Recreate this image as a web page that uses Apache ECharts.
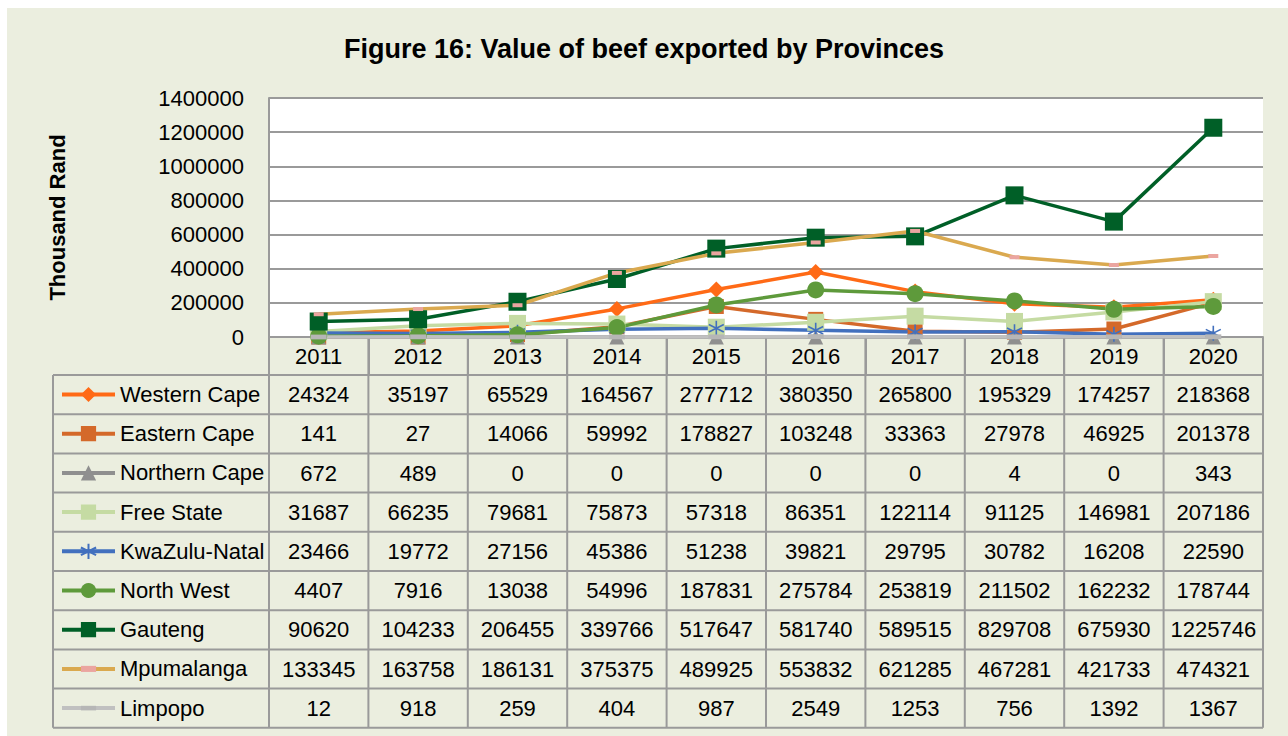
<!DOCTYPE html>
<html>
<head>
<meta charset="utf-8">
<title>Value of beef exported by Provinces</title>
<script src="https://cdn.jsdelivr.net/npm/echarts@6/dist/echarts.min.js"></script>
<style>
  html, body { margin: 0; padding: 0; background: #fff; }
  #main { width: 1288px; height: 736px; }
</style>
</head>
<body>
<div id="main"></div>
<script>
var years = ['2011', '2012', '2013', '2014', '2015', '2016', '2017', '2018', '2019', '2020'];
var westernCape = [24324, 35197, 65529, 164567, 277712, 380350, 265800, 195329, 174257, 218368];
var easternCape = [141, 27, 14066, 59992, 178827, 103248, 33363, 27978, 46925, 201378];
var northernCape = [672, 489, 0, 0, 0, 0, 0, 4, 0, 343];
var freeState = [31687, 66235, 79681, 75873, 57318, 86351, 122114, 91125, 146981, 207186];
var kwaZuluNatal = [23466, 19772, 27156, 45386, 51238, 39821, 29795, 30782, 16208, 22590];
var northWest = [4407, 7916, 13038, 54996, 187831, 275784, 253819, 211502, 162232, 178744];
var gauteng = [90620, 104233, 206455, 339766, 517647, 581740, 589515, 829708, 675930, 1225746];
var mpumalanga = [133345, 163758, 186131, 375375, 489925, 553832, 621285, 467281, 421733, 474321];
var limpopo = [12, 918, 259, 404, 987, 2549, 1253, 756, 1392, 1367];
var yTicks = [0, 200000, 400000, 600000, 800000, 1000000, 1200000, 1400000];

var FONT = '"Liberation Sans", Arial, sans-serif';
var FS = 22;
var GRID = '#9a9a9a';
var BG = '#ebeedf';

// custom marker shapes
var asterisk = 'path://M0,-10L0,10M-8.66,-5L8.66,5M-8.66,5L8.66,-5';
var dash = 'path://M0,0M10,10M0,3L10,3L10,7L0,7Z';
var bar = 'path://M0,0M10,10M0,3.5L10,3.5L10,6.5L0,6.5Z';

var seriesDefs = [
  { name: 'Western Cape', data: westernCape, color: '#ff6a16', symbol: 'diamond', size: 16 },
  { name: 'Eastern Cape', data: easternCape, color: '#d4692a', symbol: 'rect', size: 15 },
  { name: 'Northern Cape', data: northernCape, color: '#8f8f8f', symbol: 'triangle', size: 15 },
  { name: 'Free State', data: freeState, color: '#c5dba3', symbol: 'rect', size: 17 },
  { name: 'KwaZulu-Natal', data: kwaZuluNatal, color: '#4270be', symbol: asterisk, size: 15, stroke: true },
  { name: 'North West', data: northWest, color: '#5e9a3b', symbol: 'circle', size: 17 },
  { name: 'Gauteng', data: gauteng, color: '#005f27', symbol: 'rect', size: 18 },
  { name: 'Mpumalanga', data: mpumalanga, color: '#daa94f', symbol: dash, size: 10, markColor: '#eba5a0' },
  { name: 'Limpopo', data: limpopo, color: '#c0c0c0', symbol: bar, size: 16, markColor: '#b6b6b6' }
];

var series = seriesDefs.map(function (d) {
  var item = { color: d.markColor || d.color };
  if (d.stroke) {
    item.borderColor = d.color;
    item.borderWidth = 1.6;
  }
  return {
    name: d.name,
    type: 'line',
    data: d.data,
    symbol: d.symbol,
    symbolSize: d.size,
    showAllSymbol: true,
    clip: false,
    lineStyle: { color: d.color, width: 3.5 },
    itemStyle: item,
    emphasis: { disabled: true },
    animation: false
  };
});

var chart = echarts.init(document.getElementById('main'), null, { renderer: 'svg' });

var option = {
  backgroundColor: '#fff',
  animation: false,
  textStyle: { fontFamily: FONT },
  title: {
    text: 'Figure 16: Value of beef exported by Provinces',
    left: 'center',
    top: 30,
    textStyle: { fontFamily: FONT, fontSize: 27, fontWeight: 'bold', color: '#000' }
  },
  grid: {
    left: 269, top: 98, width: 994, height: 239,
    show: true, backgroundColor: '#fff', borderWidth: 0
  },
  legend: {
    orient: 'vertical',
    left: 60,
    top: 383.5,
    padding: 0,
    itemWidth: 53,
    itemHeight: 19,
    itemGap: 17.2,
    selectedMode: false,
    lineStyle: { width: 4 },
    textStyle: { fontFamily: FONT, fontSize: FS, lineHeight: 22, color: '#000' }
  },
  xAxis: {
    type: 'category',
    data: years,
    boundaryGap: true,
    axisLine: { lineStyle: { color: GRID, width: 2 } },
    axisTick: { show: true, length: 38, interval: 0, lineStyle: { color: GRID, width: 2 } },
    axisLabel: { fontFamily: FONT, fontSize: FS, color: '#000', margin: 8, interval: 0 }
  },
  yAxis: {
    type: 'value',
    min: yTicks[0],
    max: yTicks[yTicks.length - 1],
    interval: yTicks[1] - yTicks[0],
    name: 'Thousand Rand',
    nameLocation: 'middle',
    nameRotate: 90,
    nameGap: 201,
    nameTextStyle: { fontFamily: FONT, fontSize: 22, fontWeight: 'bold', color: '#000' },
    axisLine: { show: true, lineStyle: { color: GRID, width: 2 } },
    axisTick: { show: false },
    axisLabel: {
      fontFamily: FONT, fontSize: FS, color: '#000', margin: 25,
      formatter: function (v) { return String(v); }
    },
    splitLine: { lineStyle: { color: GRID, width: 2 } }
  },
  series: series
};

chart.setOption(option);

// data table under the plot, laid out from the category axis
function buildTable() {
  var x0 = chart.convertToPixel({ xAxisIndex: 0 }, years[0]);
  var x1 = chart.convertToPixel({ xAxisIndex: 0 }, years[1]);
  var band = x1 - x0;
  var plotLeft = x0 - band / 2;
  var plotRight = plotLeft + band * years.length;
  var plotBottom = chart.convertToPixel({ yAxisIndex: 0 }, 0);
  var headerH = 38;
  var rowH = 39.2;
  var tableLeft = 53;
  var tableTop = plotBottom + headerH;
  var tableBottom = tableTop + rowH * seriesDefs.length;
  var lineStyle = { stroke: GRID, lineWidth: 2 };
  var els = [];

  els.push({ type: 'rect', z: -100, silent: true,
    shape: { x: 7, y: 8, width: 1288 - 7, height: 736 - 8 }, style: { fill: BG } });

  // horizontal rules
  for (var r = 0; r <= seriesDefs.length; r++) {
    var y = tableTop + r * rowH;
    els.push({ type: 'line', silent: true, shape: { x1: tableLeft, y1: y, x2: plotRight, y2: y }, style: lineStyle });
  }
  // vertical rules
  els.push({ type: 'line', silent: true, shape: { x1: tableLeft, y1: tableTop, x2: tableLeft, y2: tableBottom }, style: lineStyle });
  for (var c = 0; c <= years.length; c++) {
    var x = plotLeft + c * band;
    els.push({ type: 'line', silent: true, shape: { x1: x, y1: plotBottom, x2: x, y2: tableBottom }, style: lineStyle });
  }
  // values
  seriesDefs.forEach(function (d, ri) {
    var cy = tableTop + ri * rowH + rowH / 2;
    d.data.forEach(function (v, ci) {
      var cx = chart.convertToPixel({ xAxisIndex: 0 }, years[ci]);
      els.push({ type: 'text', silent: true, x: cx, y: cy,
        style: { text: String(v), fontFamily: FONT, fontSize: FS, fill: '#000', align: 'center', verticalAlign: 'middle' } });
    });
  });
  chart.setOption({ graphic: { elements: els } });
}

buildTable();
</script>
</body>
</html>
